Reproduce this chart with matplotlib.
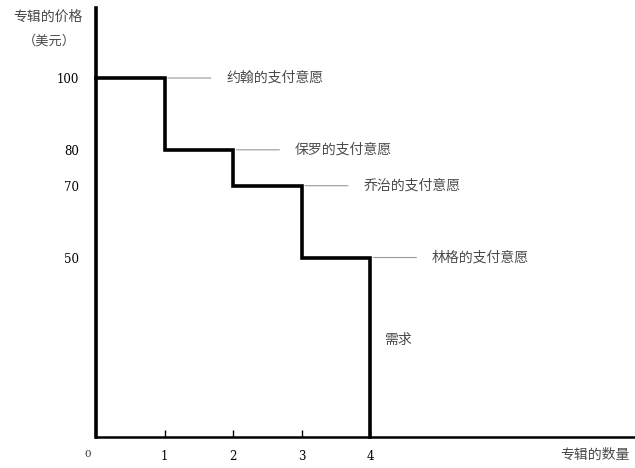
import matplotlib.pyplot as plt

plt.rcParams['font.family'] = ['Noto Sans CJK SC', 'DejaVu Sans']

# willingness to pay of each buyer (price in dollars)
buyers = ['约翰的支付意愿', '保罗的支付意愿', '乔治的支付意愿', '林格的支付意愿']
prices = [100, 80, 70, 50]
quantities = [1, 2, 3, 4]
x_ticks = [1, 2, 3, 4]
y_ticks = [100, 80, 70, 50]

fig = plt.figure(figsize=(6.35, 4.68), dpi=100)
ax = fig.add_axes([0.1512, 0.0662, 0.849, 0.9167])

# step demand curve built from the buyers' prices
xs = [0]
ys = [prices[0]]
for q, p in zip(quantities, prices):
    xs += [q - 1, q]
    ys += [p, p]
xs += [quantities[-1]]
ys += [0]
ax.plot(xs, ys, color='black', lw=2.6, solid_joinstyle='miter', clip_on=False)

text_color = '#4a4a4a'
for q, p, name in zip(quantities, prices, buyers):
    ax.annotate(name, xy=(q + 0.05, p), xytext=(q + 0.9, p),
                textcoords='data', va='center', ha='left', fontsize=10,
                color=text_color,
                arrowprops=dict(arrowstyle='-', color='#999999', lw=0.8,
                                shrinkA=9, shrinkB=0))

ax.text(4.2, 27, '需求', fontsize=10, color=text_color, va='center')

ax.set_xlim(0, 7.87)
ax.set_ylim(0, 119.5)
ax.set_xticks(x_ticks)
ax.set_yticks(y_ticks)
ax.set_xticklabels([str(t) for t in x_ticks], fontsize=8.5, family='DejaVu Serif')
ax.set_yticklabels([str(t) for t in y_ticks], fontsize=8.5, family='DejaVu Serif')
ax.tick_params(axis='x', direction='in', length=5, width=1, pad=9)
ax.tick_params(axis='y', length=0, pad=12)

for side in ['top', 'right']:
    ax.spines[side].set_visible(False)
ax.spines['left'].set_linewidth(2.6)
ax.spines['bottom'].set_linewidth(1.8)

ax.text(-0.12, -0.03, '0', transform=ax.get_xaxis_transform(), fontsize=7.5,
        family='DejaVu Serif', ha='center', va='top', color='#333333')

fig.text(0.075, 0.965, '专辑的价格', fontsize=10, ha='center', va='center', color=text_color)
fig.text(0.078, 0.912, '（美元）', fontsize=9.5, ha='center', va='center', color=text_color)
fig.text(0.937, 0.028, '专辑的数量', fontsize=10, ha='center', va='center', color=text_color)

fig.savefig('out.png', dpi=100)
